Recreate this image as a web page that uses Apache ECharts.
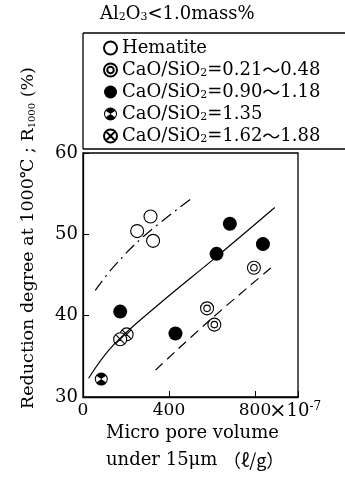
<!DOCTYPE html>
<html lang="en">
<head>
    <meta charset="UTF-8"/>
    <script src="https://cdn.jsdelivr.net/npm/echarts@6/dist/echarts.min.js"></script>
    <title>Reduction degree vs micro pore volume</title>
</head>
<body style="margin:0">
<div id="main" style="width:345px; height:479px;"></div>
<script type="text/javascript">
    // data (x in 10^-7 l/g, y in %)
    var hematiteX = [252, 314, 326];
    var hematiteY = [50.4, 52.2, 49.2];
    var lowX = [577, 611, 795];
    var lowY = [40.9, 38.9, 45.9];
    var midX = [173, 430, 621, 683, 837];
    var midY = [40.5, 37.8, 47.6, 51.3, 48.8];
    var x135 = [85];
    var y135 = [32.2];
    var highX = [203, 173];
    var highY = [37.7, 37.1];

    // trend lines
    var solidX = [26, 142, 357, 619, 892];
    var solidY = [32.3, 36.4, 41.5, 47.2, 53.3];
    var dashDotX = [57, 142, 280, 499];
    var dashDotY = [43.1, 46.0, 49.7, 54.3];
    var dashX = [337, 588, 880];
    var dashY = [33.3, 39.4, 46.0];

    var xTicks = [0, 400, 800];
    var yTicks = [30, 40, 50, 60];

    var names = ['Hematite', 'CaO/SiO2=0.21～0.48', 'CaO/SiO2=0.90～1.18',
                 'CaO/SiO2=1.35', 'CaO/SiO2=1.62～1.88'];

    function pairs(xs, ys) {
        return xs.map(function (x, i) { return [x, ys[i]]; });
    }

    var FONT = 'DejaVu Serif';
    var CJK = 'Noto Sans CJK JP';
    var CIRCLE = 'M -10 0 A 10 10 0 1 1 10 0 A 10 10 0 1 1 -10 0 Z';
    var DOUBLE = CIRCLE + ' M -5 0 A 5 5 0 1 1 5 0 A 5 5 0 1 1 -5 0 Z';
    var CROSS = CIRCLE + ' M -7 -7 L 7 7 M 7 -7 L -7 7';
    var HOURGLASS = CIRCLE + ' M -8.4 0 A 8.4 8.4 0 1 0 8.4 0 A 8.4 8.4 0 1 0 -8.4 0 Z' +
        ' M 0 0 L -6.9 -4.8 A 8.4 8.4 0 0 1 6.9 -4.8 Z' +
        ' M 0 0 L 6.9 4.8 A 8.4 8.4 0 0 1 -6.9 4.8 Z';

    var myChart = echarts.init(document.getElementById('main'));

    var option = {
        backgroundColor: '#fff',
        animation: false,
        textStyle: {fontFamily: FONT, color: '#000'},
        grid: {
            left: 83, top: 153, right: 47, bottom: 82,
            show: true, borderColor: '#000', borderWidth: 1.3
        },
        legend: {
            orient: 'vertical',
            left: 98, top: 34,
            itemWidth: 13, itemHeight: 13, itemGap: 4,
            data: names,
            textStyle: {
                fontFamily: FONT, fontSize: 18, color: '#000',
                rich: {
                    sub: {fontFamily: FONT, fontSize: 11, color: '#000', verticalAlign: 'bottom', padding: [6, 0, 0, 0]},
                    w: {fontFamily: CJK, fontSize: 18, color: '#000'}
                }
            },
            formatter: function (n) {
                return n.replace('SiO2', 'SiO{sub|2}').replace('～', '{w|～}');
            }
        },
        xAxis: {
            type: 'value', min: 0, max: 1000, interval: 400,
            axisLine: {lineStyle: {color: '#000', width: 1.3}},
            axisTick: {inside: true, length: 6, lineStyle: {color: '#000'}},
            axisLabel: {
                fontFamily: FONT, fontSize: 17, color: '#000', margin: 5,
                formatter: function (v) { return xTicks.indexOf(v) >= 0 ? String(v) : ''; }
            },
            splitLine: {show: false}
        },
        yAxis: {
            type: 'value', min: 30, max: 60, interval: 10,
            axisLine: {show: true, lineStyle: {color: '#000', width: 1.3}},
            axisTick: {show: true, inside: true, length: 6, lineStyle: {color: '#000'}},
            axisLabel: {
                fontFamily: FONT, fontSize: 18, color: '#000', margin: 5,
                formatter: function (v) { return yTicks.indexOf(v) >= 0 ? String(v) : ''; }
            },
            splitLine: {show: false}
        },
        graphic: [
            {
                type: 'text', left: 100, top: 5,
                style: {
                    text: 'Al{s|2}O{s|3}<1.0mass%',
                    font: '18px "' + FONT + '"', fill: '#000',
                    rich: {s: {fontSize: 11, fontFamily: FONT, fill: '#000', verticalAlign: 'bottom', padding: [7, 0, 0, 0]}}
                }
            },
            {
                type: 'line', shape: {x1: 83, y1: 33, x2: 345, y2: 33},
                style: {stroke: '#000', lineWidth: 1.3}
            },
            {
                type: 'line', shape: {x1: 83, y1: 149, x2: 345, y2: 149},
                style: {stroke: '#000', lineWidth: 1.3}
            },
            {
                type: 'line', shape: {x1: 83, y1: 33, x2: 83, y2: 149},
                style: {stroke: '#000', lineWidth: 1.3}
            },
            {
                type: 'text', left: 269, top: 401,
                style: {
                    text: '{x|×}10{e|-7}', font: '18px "' + FONT + '"', fill: '#000',
                    rich: {
                        x: {fontSize: 21, fontFamily: FONT, fill: '#000'},
                        e: {fontSize: 12, fontFamily: FONT, fill: '#000', verticalAlign: 'top', padding: [0, 0, 8, 0]}
                    }
                }
            },
            {
                type: 'text', left: 106, top: 424,
                style: {text: 'Micro pore volume', font: '18px "' + FONT + '"', fill: '#000'}
            },
            {
                type: 'text', left: 106, top: 451,
                style: {
                    text: 'under 15μm {w|（ℓ/g）}', font: '18px "' + FONT + '"', fill: '#000',
                    rich: {w: {fontFamily: CJK, fontSize: 18, fill: '#000'}}
                }
            },
            {
                type: 'text', x: 28, y: 238, rotation: Math.PI / 2,
                style: {
                    text: 'Reduction degree at 1000℃ ; R{s|1000} (%)',
                    font: '17.5px "' + FONT + '"', fill: '#000',
                    align: 'center', verticalAlign: 'middle',
                    rich: {s: {fontSize: 10, fontFamily: FONT, fill: '#000', verticalAlign: 'bottom', padding: [7, 0, 0, 0]}}
                }
            }
        ],
        series: [
            {
                name: 'solid', type: 'line', smooth: 0.4, symbol: 'none',
                data: pairs(solidX, solidY),
                lineStyle: {color: '#000', width: 1.2}
            },
            {
                name: 'dashdot', type: 'line', smooth: 0.4, symbol: 'none',
                data: pairs(dashDotX, dashDotY),
                lineStyle: {color: '#000', width: 1.2, type: [12, 5, 2, 5]}
            },
            {
                name: 'dash', type: 'line', smooth: 0.4, symbol: 'none',
                data: pairs(dashX, dashY),
                lineStyle: {color: '#000', width: 1.2, type: [10, 6]}
            },
            {
                name: names[0], type: 'scatter', symbol: 'path://' + CIRCLE, symbolSize: 13,
                data: pairs(hematiteX, hematiteY),
                itemStyle: {color: '#fff', borderColor: '#000', borderWidth: 1.1, opacity: 1}
            },
            {
                name: names[1], type: 'scatter', symbol: 'path://' + DOUBLE, symbolSize: 13,
                data: pairs(lowX, lowY),
                itemStyle: {color: '#fff', borderColor: '#000', borderWidth: 1.1, opacity: 1}
            },
            {
                name: names[2], type: 'scatter', symbol: 'circle', symbolSize: 14,
                data: pairs(midX, midY),
                itemStyle: {color: '#000', opacity: 1}
            },
            {
                name: names[3], type: 'scatter', symbol: 'path://' + HOURGLASS, symbolSize: 13,
                data: pairs(x135, y135),
                itemStyle: {color: '#000', borderWidth: 0, opacity: 1}
            },
            {
                name: names[4], type: 'scatter', symbol: 'path://' + CROSS, symbolSize: 13,
                data: pairs(highX, highY),
                itemStyle: {color: '#fff', borderColor: '#000', borderWidth: 1.1, opacity: 1}
            }
        ]
    };

    myChart.setOption(option);
</script>
</body>
</html>
